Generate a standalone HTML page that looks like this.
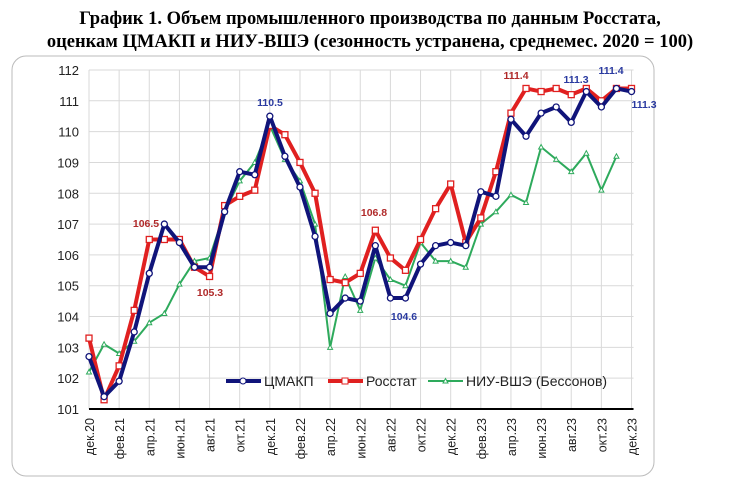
<!DOCTYPE html>
<html><head><meta charset="utf-8"><style>
body{margin:0;background:#fff;}
svg text{font-family:"Liberation Sans",sans-serif;}
</style></head><body>
<svg id="c" width="737" height="490" xmlns="http://www.w3.org/2000/svg">
<text x="370" y="24" text-anchor="middle" style="font-family:'Liberation Serif',serif;font-weight:bold;font-size:18.5px">График 1. Объем промышленного производства по данным Росстата,</text>
<text x="370" y="47" text-anchor="middle" style="font-family:'Liberation Serif',serif;font-weight:bold;font-size:18.5px">оценкам ЦМАКП и НИУ-ВШЭ (сезонность устранена, среднемес. 2020 = 100)</text>
<rect x="12" y="56" width="642" height="420" rx="14" fill="none" stroke="#bbb"/>
<g id="grid"></g><g id="series"></g><g id="labels"></g>
</svg>
<script>
const months=["дек.20","фев.21","апр.21","июн.21","авг.21","окт.21","дек.21","фев.22","апр.22","июн.22","авг.22","окт.22","дек.22","фев.23","апр.23","июн.23","авг.23","окт.23","дек.23"];
const yTicks=[101,102,103,104,105,106,107,108,109,110,111,112];
const cmakp=[102.7,101.4,101.9,103.5,105.4,107.0,106.4,105.6,105.6,107.4,108.7,108.6,110.5,109.2,108.2,106.6,104.1,104.6,104.5,106.3,104.6,104.6,105.7,106.3,106.4,106.3,108.05,107.9,110.4,109.85,110.6,110.8,110.3,111.3,110.8,111.4,111.3];
const rosstat=[103.3,101.3,102.4,104.2,106.5,106.5,106.5,105.6,105.3,107.6,107.9,108.1,110.2,109.9,109.0,108.0,105.2,105.1,105.4,106.8,105.9,105.5,106.5,107.5,108.3,106.4,107.2,108.7,110.6,111.4,111.3,111.4,111.2,111.4,111.0,111.4,111.4];
const hse=[102.2,103.1,102.8,103.2,103.8,104.1,105.05,105.8,105.9,107.4,108.4,109.0,110.2,109.1,108.4,107.0,103.0,105.3,104.2,105.9,105.2,105.0,106.4,105.8,105.8,105.6,107.0,107.4,107.95,107.7,109.5,109.1,108.7,109.3,108.1,109.2];
const X0=89,DX=15.07,Y0=409,DY=30.82;
const xs=i=>X0+i*DX, ys=v=>Y0-(v-101)*DY;
const NS="http://www.w3.org/2000/svg";
function mk(t,a,p){const e=document.createElementNS(NS,t);for(const k in a)e.setAttribute(k,a[k]);p.appendChild(e);return e;}
const g=document.getElementById('grid');
for(let i=0;i<=36;i+=2){const l=mk('line',{x1:xs(i),x2:xs(i),y1:ys(112),y2:Y0,stroke:'#d9d9d9'},g);

}
yTicks.forEach(v=>{const l=mk('line',{x1:X0,x2:xs(36)+2,y1:ys(v),y2:ys(v),stroke:v==101?'#000':'#d9d9d9','stroke-width':v==101?2:1},g);


const t=mk('text',{x:X0-10,y:ys(v)+5,'text-anchor':'end','font-size':13,fill:'#222'},g);t.textContent=v;

});
months.forEach((m,k)=>{const x=xs(k*2)+5;const t=mk('text',{x:x,y:418,'text-anchor':'end','font-size':12.5,fill:'#222',transform:`rotate(-90 ${x} 418)`},g);t.textContent=m;

});
const s=document.getElementById('series');
function series(d,color,w,mark,name){
 const p=mk('polyline',{points:d.map((v,i)=>xs(i)+','+ys(v)).join(' '),fill:'none',stroke:color,'stroke-width':w,'stroke-linejoin':'round'},s);
 
 
 d.forEach((v,i)=>{let m;
  if(mark=='c')m=mk('circle',{cx:xs(i),cy:ys(v),r:3,fill:'#fff',stroke:color,'stroke-width':1.3},s);
  else if(mark=='s')m=mk('rect',{x:xs(i)-3,y:ys(v)-3,width:6,height:6,fill:'#fff',stroke:color,'stroke-width':1.3},s);
  else m=mk('path',{d:`M${xs(i)-2.5},${ys(v)+2} L${xs(i)+2.5},${ys(v)+2} L${xs(i)},${ys(v)-2.5}Z`,fill:'#fff',stroke:color,'stroke-width':1},s);
  
  });
}
series(hse,'#2eaa5c',2,'t','hse');
series(rosstat,'#e02020',4,'s','rosstat');
series(cmakp,'#10147a',4,'c','cmakp');
const L=document.getElementById('labels');
function lab(x,y,t,c,n){const e=mk('text',{x:x,y:y,'text-anchor':'middle','font-size':10.5,'font-weight':'bold',fill:c},L);e.textContent=t;

}
lab(146,227,'106.5','#b02a2a','label-rosstat-apr21');
lab(210,296,'105.3','#b02a2a','label-rosstat-aug21');
lab(270,106,'110.5','#2a3aa0','label-cmakp-dec21');
lab(374,216,'106.8','#b02a2a','label-rosstat-jul22');
lab(404,320,'104.6','#2a3aa0','label-cmakp-sep22');
lab(516,79,'111.4','#b02a2a','label-rosstat-may23');
lab(576,83,'111.3','#2a3aa0','label-cmakp-aug23');
lab(611,74,'111.4','#2a3aa0','label-cmakp-nov23');
lab(644,108,'111.3','#2a3aa0','label-cmakp-dec23');
const lg=mk('g',{},L);
[[226,'#10147a',4,'c','ЦМАКП'],[328,'#e02020',4,'s','Росстат'],[428,'#2eaa5c',2,'t','НИУ-ВШЭ (Бессонов)']].forEach(([x,c,w,m,t])=>{
 const y=381;
 const ln=mk('line',{x1:x,x2:x+35,y1:y,y2:y,stroke:c,'stroke-width':w},lg);
 
 
 if(m=='c')mk('circle',{cx:x+17,cy:y,r:3,fill:'#fff',stroke:c},lg);
 else if(m=='s')mk('rect',{x:x+14,y:y-3,width:6,height:6,fill:'#fff',stroke:c},lg);
 else mk('path',{d:`M${x+15},${y+2} L${x+20},${y+2} L${x+17.5},${y-2.5}Z`,fill:'#fff',stroke:c},lg);
 const tx=mk('text',{x:x+38,y:y+5,'font-size':14,fill:'#222'},lg);tx.textContent=t;
 
 
});
</script>
</body></html>
